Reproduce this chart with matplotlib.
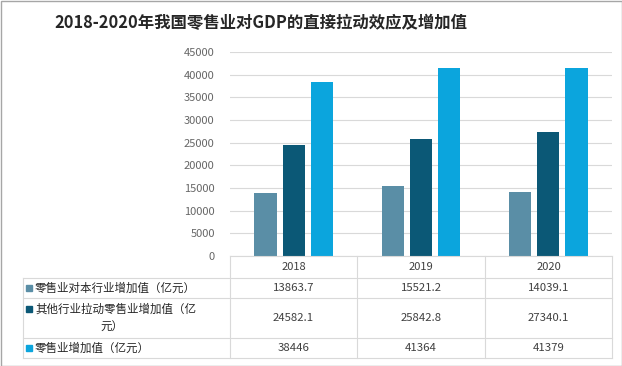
import matplotlib
matplotlib.use("Agg")
import matplotlib.pyplot as plt
from matplotlib.lines import Line2D
from matplotlib.patches import Rectangle
import numpy as np

plt.rcParams['font.family'] = ['Noto Sans CJK SC', 'DejaVu Sans']

# 数据
years = ["2018", "2019", "2020"]
series_names = ["零售业对本行业增加值（亿元）",
                "其他行业拉动零售业增加值（亿\n元）",
                "零售业增加值（亿元）"]
self_added = [13863.7, 15521.2, 14039.1]
other_pull = [24582.1, 25842.8, 27340.1]
total_added = [38446, 41364, 41379]
cell_text = [["13863.7", "15521.2", "14039.1"],
             ["24582.1", "25842.8", "27340.1"],
             ["38446", "41364", "41379"]]
colors = ["#5A8EA6", "#0B5876", "#0BA5DD"]

W, H = 622, 366
fig = plt.figure(figsize=(W / 100, H / 100), dpi=100)

# 外框
fig.add_artist(Rectangle((0.5 / W, 0.5 / H), 1 - 1 / W, 1 - 1 / H, transform=fig.transFigure,
                         fill=False, edgecolor="#A6A6A6", linewidth=1))

fig.text(261 / W, 1 - 23 / H, "2018-2020年我国零售业对GDP的直接拉动效应及增加值",
         ha="center", va="center", fontsize=11.8, fontweight="bold", color="#262626")

# 柱状图区域
x0, x1 = 230, 612
ytop, ybot = 52, 256
ax = fig.add_axes([x0 / W, 1 - ybot / H, (x1 - x0) / W, (ybot - ytop) / H])
x = np.arange(len(years))
bw = 0.175
step = 0.222
for i, vals in enumerate([self_added, other_pull, total_added]):
    ax.bar(x + (i - 1) * step, vals, width=bw, color=colors[i], zorder=3)
ax.set_xlim(-0.5, 2.5)
ax.set_ylim(0, 45000)
ax.set_yticks(np.arange(0, 45001, 5000))
ax.tick_params(axis="y", length=0, labelsize=8, labelcolor="#666666", pad=11)
ax.set_xticks([])
ax.grid(axis="y", color="#D9D9D9", linewidth=0.8, zorder=0)
for s in ["left", "right", "top", "bottom"]:
    ax.spines[s].set_visible(False)

# 数据表
tax = fig.add_axes([0, 0, 1, 1])
tax.set_xlim(0, W)
tax.set_ylim(H, 0)
tax.axis("off")
lc = "#D9D9D9"
left = 23
cols = [230, 357, 485, 612]
rows = [256, 278, 298, 338, 358]
tax.add_line(Line2D([cols[0], cols[-1]], [rows[0], rows[0]], color=lc, lw=0.8))
for r in rows[1:]:
    tax.add_line(Line2D([left, cols[-1]], [r, r], color=lc, lw=0.8))
for c in cols:
    tax.add_line(Line2D([c, c], [rows[0], rows[-1]], color=lc, lw=0.8))
tax.add_line(Line2D([left, left], [rows[1], rows[-1]], color=lc, lw=0.8))

for j, yr in enumerate(years):
    tax.text((cols[j] + cols[j + 1]) / 2, (rows[0] + rows[1]) / 2, yr,
             ha="center", va="center", fontsize=8, color="#404040")

fs = 8.3
for i, name in enumerate(series_names):
    yc = (rows[i + 1] + rows[i + 2]) / 2
    if "\n" in name:
        first, second = name.split("\n")
        tax.add_patch(Rectangle((26, yc - 9 - 3), 6, 6, color=colors[i]))
        tax.text(35, yc - 9, first, ha="left", va="center", fontsize=fs, color="#262626")
        tax.text(100, yc + 9, second, ha="left", va="center", fontsize=fs, color="#262626")
    else:
        tax.add_patch(Rectangle((26, yc - 3), 6, 6, color=colors[i]))
        tax.text(35, yc, name, ha="left", va="center", fontsize=fs, color="#262626")
    for j in range(len(years)):
        tax.text((cols[j] + cols[j + 1]) / 2, yc, cell_text[i][j],
                 ha="center", va="center", fontsize=8.2, color="#404040")

fig.savefig("out.png", dpi=100)
